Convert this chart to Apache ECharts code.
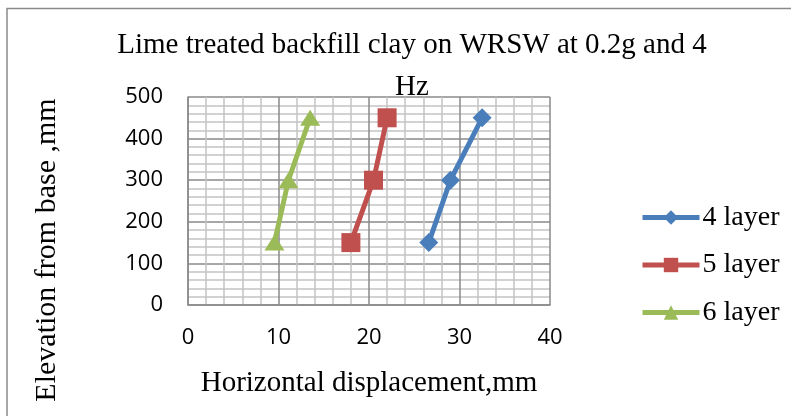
<!DOCTYPE html>
<html><head><meta charset="utf-8">
<script src="https://cdn.jsdelivr.net/npm/echarts@6/dist/echarts.min.js"></script>
<style>html,body{margin:0;padding:0;background:#fff}#c{width:791px;height:416px}</style>
</head><body><div id="c"></div>
<script>
var elevation = [150, 300, 450];
var layer4 = [26.6, 29.0, 32.5];
var layer5 = [18.0, 20.5, 22.0];
var layer6 = [9.55, 11.1, 13.5];
var seriesNames = ['4 layer', '5 layer', '6 layer'];
var xTicks = [0, 10, 20, 30, 40];
var yTicks = [0, 100, 200, 300, 400, 500];
var chartTitle = 'Lime treated backfill clay on WRSW at 0.2g and 4\nHz';
var xTitle = 'Horizontal displacement,mm';
var yTitle = 'Elevation from base ,mm';

function pairs(xs){ return xs.map(function(x,i){ return [x, elevation[i]]; }); }

var serif = 'Liberation Serif';
var sans = 'Open Sans';
var chart = echarts.init(document.getElementById('c'), null, {renderer:'canvas'});
chart.setOption({
  animation: false,
  backgroundColor: '#fff',
  graphic: [
    {type:'rect', shape:{x:7, y:8.5, width:900, height:600}, style:{fill:'none', stroke:'#8a8a8a', lineWidth:1.5}, z:-1},
    {type:'text', x:47, y:250, rotation: Math.PI/2,
     style:{text: yTitle, fontFamily: serif, fontSize: 30, fill:'#000', textAlign:'center', textVerticalAlign:'middle'}}
  ],
  title: {
    text: chartTitle,
    left: 407, top: 19, textAlign: 'center',
    textStyle: {fontFamily: serif, fontSize: 29, fontWeight: 'normal', color: '#000', lineHeight: 42}
  },
  legend: {
    orient: 'vertical', left: 635, top: 198,
    itemWidth: 57, itemHeight: 18, itemGap: 18.5,
    lineStyle: {width: 5},
    textStyle: {fontFamily: serif, fontSize: 28, lineHeight: 29, color: '#000', padding:[0,0,0,-2]},
    data: seriesNames
  },
  grid: {left: 188, top: 97, width: 362, height: 208, containLabel: false},
  xAxis: {
    type: 'value', min: xTicks[0], max: xTicks[xTicks.length-1], interval: 10,
    name: xTitle, nameLocation: 'middle', nameGap: 64,
    nameTextStyle: {fontFamily: serif, fontSize: 29, color: '#000'},
    axisLine: {show: true, lineStyle: {color: '#8a8a8a', width: 1.5}},
    axisTick: {show: false},
    axisLabel: {fontFamily: sans, fontSize: 22, color: '#000', margin: 22},
    splitLine: {show: true, lineStyle: {color: '#8a8a8a', width: 1.5}},
    minorTick: {show: false, splitNumber: 5},
    minorSplitLine: {show: true, lineStyle: {color: '#c4c4c4', width: 1.5}}
  },
  yAxis: {
    type: 'value', min: yTicks[0], max: yTicks[yTicks.length-1], interval: 100,
    axisLine: {show: true, lineStyle: {color: '#8a8a8a', width: 1.5}},
    axisTick: {show: false},
    axisLabel: {fontFamily: sans, fontSize: 22, color: '#000', margin: 25},
    splitLine: {show: true, lineStyle: {color: '#8a8a8a', width: 1.5}},
    minorTick: {show: false, splitNumber: 5},
    minorSplitLine: {show: true, lineStyle: {color: '#c4c4c4', width: 1.5}}
  },
  series: [
    {name: seriesNames[0], type: 'line', data: pairs(layer4), symbol: 'diamond', symbolSize: 19,
     itemStyle: {color: '#4A7EBB'}, lineStyle: {color: '#4A7EBB', width: 5}},
    {name: seriesNames[1], type: 'line', data: pairs(layer5), symbol: 'rect', symbolSize: 19,
     itemStyle: {color: '#C0504D'}, lineStyle: {color: '#C0504D', width: 5}},
    {name: seriesNames[2], type: 'line', data: pairs(layer6), symbol: 'triangle', symbolSize: [20, 16],
     itemStyle: {color: '#9BBB59'}, lineStyle: {color: '#9BBB59', width: 5}}
  ]
});
</script></body></html>
